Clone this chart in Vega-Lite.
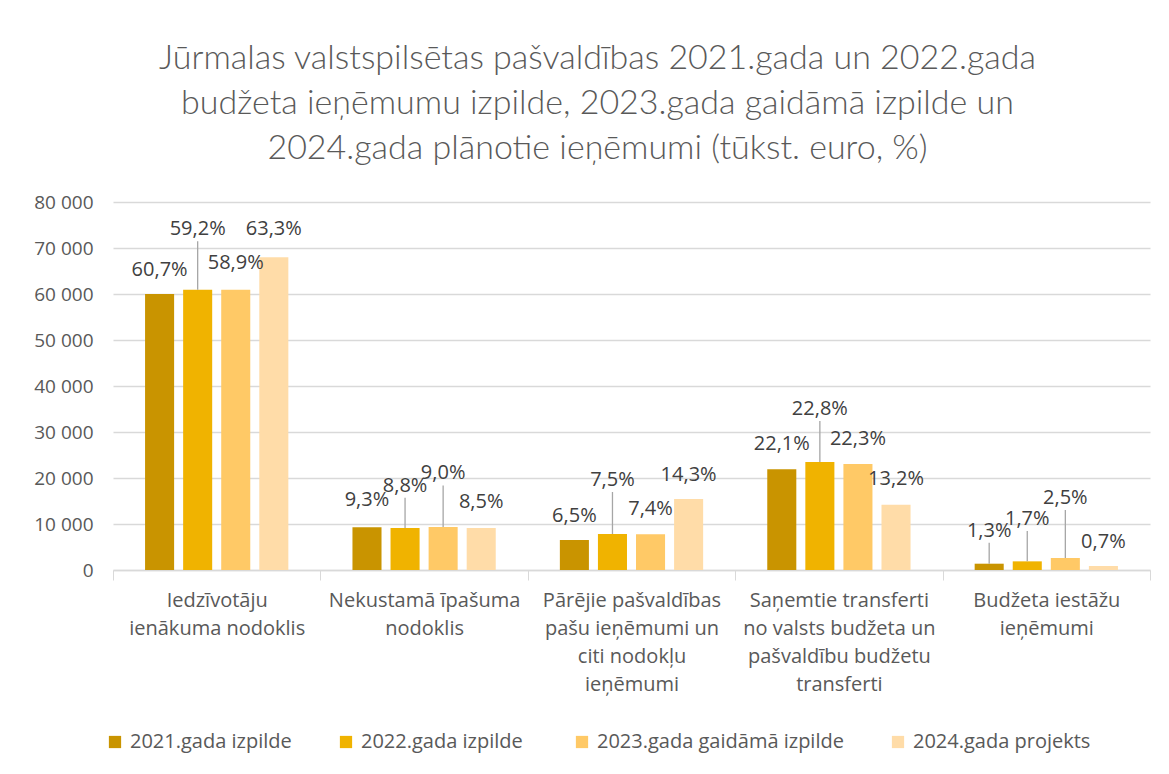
{
  "$schema": "https://vega.github.io/schema/vega-lite/v6.json",
  "width": 1037,
  "height": 368,
  "autosize": {"type": "none"},
  "padding": {"left": 113, "top": 202, "right": 19, "bottom": 204},
  "background": "white",
  "config": {
    "locale": {"number": {"decimal": ",", "thousands": " ", "grouping": [3], "currency": ["", " €"]}},
    "view": {"stroke": null},
    "font": "Open Sans",
    "axisY": {"tickCount": 8, "labelOverlap": false}
  },
  "title": {
    "text": ["Jūrmalas valstspilsētas pašvaldības 2021.gada un 2022.gada", "budžeta ieņēmumu izpilde, 2023.gada gaidāmā izpilde un", "2024.gada plānotie ieņēmumi (tūkst. euro, %)"],
    "anchor": "middle",
    "frame": "group",
    "dx": -34,
    "offset": 27,
    "font": "Lato",
    "fontSize": 34,
    "fontWeight": 300,
    "color": "#595959",
    "lineHeight": 45
  },
  "resolve": {"axis": {"y": "independent"}},
  "data": {
    "values": [
      {"category": "Iedzīvotāju\nienākuma nodoklis", "series": "2021.gada izpilde", "value": 60000, "pct": "60,7%", "labelAt": 65200, "leader": false},
      {"category": "Iedzīvotāju\nienākuma nodoklis", "series": "2022.gada  izpilde", "value": 60900, "pct": "59,2%", "labelAt": 74100, "leader": true},
      {"category": "Iedzīvotāju\nienākuma nodoklis", "series": "2023.gada gaidāmā izpilde", "value": 60900, "pct": "58,9%", "labelAt": 66700, "leader": false},
      {"category": "Iedzīvotāju\nienākuma nodoklis", "series": "2024.gada projekts", "value": 68000, "pct": "63,3%", "labelAt": 74100, "leader": false},
      {"category": "Nekustamā īpašuma\nnodoklis", "series": "2021.gada izpilde", "value": 9280, "pct": "9,3%", "labelAt": 15200, "leader": false},
      {"category": "Nekustamā īpašuma\nnodoklis", "series": "2022.gada  izpilde", "value": 9130, "pct": "8,8%", "labelAt": 18300, "leader": true},
      {"category": "Nekustamā īpašuma\nnodoklis", "series": "2023.gada gaidāmā izpilde", "value": 9350, "pct": "9,0%", "labelAt": 21000, "leader": true},
      {"category": "Nekustamā īpašuma\nnodoklis", "series": "2024.gada projekts", "value": 9130, "pct": "8,5%", "labelAt": 14850, "leader": false},
      {"category": "Pārējie pašvaldības\npašu ieņēmumi un\nciti nodokļu\nieņēmumi", "series": "2021.gada izpilde", "value": 6520, "pct": "6,5%", "labelAt": 11800, "leader": false},
      {"category": "Pārējie pašvaldības\npašu ieņēmumi un\nciti nodokļu\nieņēmumi", "series": "2022.gada  izpilde", "value": 7830, "pct": "7,5%", "labelAt": 19560, "leader": true},
      {"category": "Pārējie pašvaldības\npašu ieņēmumi un\nciti nodokļu\nieņēmumi", "series": "2023.gada gaidāmā izpilde", "value": 7760, "pct": "7,4%", "labelAt": 13260, "leader": false},
      {"category": "Pārējie pašvaldības\npašu ieņēmumi un\nciti nodokļu\nieņēmumi", "series": "2024.gada projekts", "value": 15430, "pct": "14,3%", "labelAt": 20650, "leader": false},
      {"category": "Saņemtie transferti\nno valsts budžeta un\npašvaldību budžetu\ntransferti", "series": "2021.gada izpilde", "value": 21890, "pct": "22,1%", "labelAt": 27400, "leader": false},
      {"category": "Saņemtie transferti\nno valsts budžeta un\npašvaldību budžetu\ntransferti", "series": "2022.gada  izpilde", "value": 23480, "pct": "22,8%", "labelAt": 35000, "leader": true},
      {"category": "Saņemtie transferti\nno valsts budžeta un\npašvaldību budžetu\ntransferti", "series": "2023.gada gaidāmā izpilde", "value": 23040, "pct": "22,3%", "labelAt": 28500, "leader": false},
      {"category": "Saņemtie transferti\nno valsts budžeta un\npašvaldību budžetu\ntransferti", "series": "2024.gada projekts", "value": 14200, "pct": "13,2%", "labelAt": 19800, "leader": false},
      {"category": "Budžeta iestāžu\nieņēmumi", "series": "2021.gada izpilde", "value": 1370, "pct": "1,3%", "labelAt": 8550, "leader": true},
      {"category": "Budžeta iestāžu\nieņēmumi", "series": "2022.gada  izpilde", "value": 1880, "pct": "1,7%", "labelAt": 11100, "leader": true},
      {"category": "Budžeta iestāžu\nieņēmumi", "series": "2023.gada gaidāmā izpilde", "value": 2610, "pct": "2,5%", "labelAt": 15650, "leader": true},
      {"category": "Budžeta iestāžu\nieņēmumi", "series": "2024.gada projekts", "value": 870, "pct": "0,7%", "labelAt": 6100, "leader": false}
    ]
  },
  "encoding": {
    "x": {
      "field": "category",
      "type": "nominal",
      "sort": null,
      "scale": {"paddingInner": 0, "paddingOuter": 0},
      "axis": {
        "title": null,
        "labelAngle": 0,
        "labelExpr": "split(datum.label, '\\n')",
        "labelFont": "Open Sans",
        "labelFontSize": 20,
        "labelColor": "#595959",
        "labelLineHeight": 28,
        "labelPadding": 10,
        "labelBaseline": "top",
        "labelLimit": 250,
        "tickBand": "extent",
        "tickSize": 10,
        "tickColor": "#D9D9D9",
        "domainColor": "#D9D9D9",
        "domainWidth": 1.5,
        "grid": false
      }
    },
    "xOffset": {
      "field": "series",
      "type": "nominal",
      "sort": null,
      "scale": {"paddingInner": 0.237, "paddingOuter": 0.842}
    }
  },
  "layer": [
    {
      "mark": {"type": "bar"},
      "encoding": {
        "y": {
          "field": "value",
          "type": "quantitative",
          "scale": {"domain": [0, 80000], "nice": false},
          "axis": {
            "title": null,
            "format": ",d",
            "tickCount": 8,
            "labelOverlap": false,
            "labelFont": "Open Sans",
            "labelFontSize": 19,
            "labelColor": "#595959",
            "labelPadding": 20,
            "domain": false,
            "ticks": false,
            "grid": true,
            "gridColor": "#D9D9D9",
            "gridWidth": 1.5
          }
        },
        "color": {
          "field": "series",
          "type": "nominal",
          "sort": null,
          "scale": {
            "domain": ["2021.gada izpilde", "2022.gada  izpilde", "2023.gada gaidāmā izpilde", "2024.gada projekts"],
            "range": ["#C99400", "#F0B300", "#FFC966", "#FFDCA8"]
          },
          "legend": {
            "title": null,
            "orient": "none",
            "direction": "horizontal",
            "legendX": -8,
            "legendY": 530,
            "symbolType": "square",
            "symbolSize": 150,
            "symbolStrokeWidth": 0,
            "symbolOpacity": 1,
            "labelFont": "Open Sans",
            "labelFontSize": 20,
            "labelColor": "#595959",
            "labelLimit": 400,
            "columnPadding": 44,
            "labelOffset": 5
          }
        }
      }
    },
    {
      "transform": [{"filter": "datum.leader"}],
      "mark": {"type": "rule", "color": "#A6A6A6", "strokeWidth": 1.3, "y2Offset": 12},
      "encoding": {
        "y": {"field": "value", "type": "quantitative", "axis": null},
        "y2": {"field": "labelAt"}
      }
    },
    {
      "mark": {"type": "text", "font": "Open Sans", "fontSize": 20, "color": "#404040", "baseline": "middle"},
      "encoding": {
        "y": {"field": "labelAt", "type": "quantitative", "axis": null},
        "text": {"field": "pct"}
      }
    }
  ]
}
